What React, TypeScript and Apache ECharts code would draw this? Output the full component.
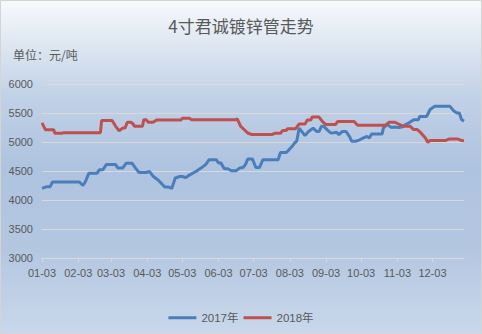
import React, { useEffect, useRef } from "react";
import * as echarts from "echarts";

const TITLE = "4寸君诚镀锌管走势";
const UNIT = "单位：元/吨";
const SERIES_NAMES = ["2017年", "2018年"];
const Y_MIN = 3000;
const Y_MAX = 6000;
const Y_STEP = 500;
const MONTH_DAYS = [31, 28, 31, 30, 31, 30, 31, 31, 30, 31, 30, 31];

const s2017Dates = [
  "01-03", "01-07", "01-10", "01-12", "02-04", "02-07", "02-09", "02-12", "02-19", "02-21",
  "02-24", "02-27", "03-07", "03-09", "03-13", "03-16", "03-21", "03-24", "03-27", "04-02",
  "04-05", "04-08", "04-12", "04-15", "04-18", "04-21", "04-24", "04-27", "05-01", "05-03",
  "05-06", "05-09", "05-15", "05-19", "05-23", "05-26", "06-01", "06-03", "06-05", "06-08",
  "06-11", "06-14", "06-18", "06-21", "06-24", "06-26", "06-28", "07-02", "07-05", "07-08",
  "07-11", "07-24", "07-26", "07-31", "08-02", "08-05", "08-07", "08-09", "08-11", "08-16",
  "08-19", "08-23", "08-26", "08-28", "08-30", "09-01", "09-04", "09-07", "09-10", "09-12",
  "09-14", "09-17", "09-20", "09-23", "09-25", "09-28", "10-01", "10-05", "10-08", "10-10",
  "10-12", "10-21", "10-22", "10-25", "10-29", "11-01", "11-04", "11-07", "11-10", "11-13",
  "11-17", "11-21", "11-22", "11-28", "12-01", "12-05", "12-18", "12-21", "12-24", "12-26",
  "12-28", "12-30",
];
const s2017Values = [
  4200, 4230, 4230, 4310, 4310, 4250, 4310, 4460, 4460, 4520,
  4520, 4610, 4610, 4550, 4550, 4635, 4635, 4550, 4475, 4475,
  4490, 4410, 4350, 4290, 4225, 4225, 4200, 4380, 4405, 4405,
  4385, 4430, 4495, 4550, 4610, 4695, 4695, 4640, 4640, 4540,
  4540, 4505, 4505, 4550, 4560, 4610, 4705, 4705, 4560, 4560,
  4695, 4695, 4820, 4820, 4860, 4925, 4980, 5020, 5240, 5110,
  5180, 5240, 5180, 5180, 5270, 5270, 5210, 5155, 5160, 5170,
  5126, 5183, 5183, 5097, 5011, 5011, 5030, 5070, 5097, 5070,
  5140, 5140, 5240, 5300, 5250, 5260, 5250, 5260, 5300, 5330,
  5385, 5385, 5440, 5440, 5560, 5615, 5615, 5540, 5500, 5500,
  5385, 5360,
];

const s2018Dates = [
  "01-03", "01-06", "01-13", "01-14", "01-20", "01-21", "02-22", "02-23", "03-04", "03-07",
  "03-10", "03-13", "03-15", "03-17", "03-20", "03-22", "03-23", "03-30", "03-31", "04-02",
  "04-04", "04-08", "04-11", "05-02", "05-03", "05-09", "05-11", "06-18", "06-19", "06-22",
  "06-28", "07-01", "07-19", "07-21", "07-26", "07-28", "07-31", "08-01", "08-08", "08-11",
  "08-16", "08-18", "08-21", "08-22", "08-28", "08-31", "09-03", "09-11", "09-13", "09-27",
  "09-30", "10-24", "10-27", "11-01", "11-04", "11-08", "11-14", "11-17", "11-20", "11-23",
  "11-27", "11-29", "12-01", "12-14", "12-17", "12-25", "12-28", "12-30",
];
const s2018Values = [
  5330, 5210, 5210, 5150, 5150, 5160, 5160, 5370, 5370, 5270,
  5195, 5240, 5240, 5340, 5340, 5310, 5270, 5270, 5385, 5385,
  5340, 5340, 5380, 5380, 5410, 5410, 5385, 5385, 5400, 5270,
  5155, 5130, 5130, 5150, 5150, 5200, 5200, 5230, 5230, 5310,
  5310, 5380, 5380, 5430, 5430, 5350, 5300, 5300, 5355, 5355,
  5290, 5290, 5340, 5340, 5310, 5270, 5270, 5215, 5215, 5160,
  5068, 4995, 5025, 5025, 5050, 5050, 5025, 5020,
];

function buildCategories(): string[] {
  const out: string[] = [];
  for (let m = 1; m <= 12; m++) {
    for (let d = 1; d <= MONTH_DAYS[m - 1]; d++) {
      if (m === 1 && d < 3) continue;
      if (m === 12 && d > 30) continue;
      out.push(String(m).padStart(2, "0") + "-" + String(d).padStart(2, "0"));
    }
  }
  return out;
}

export default function App() {
  const ref = useRef<HTMLDivElement>(null);
  useEffect(() => {
    if (!ref.current) return;
    const chart = echarts.init(ref.current, null, { renderer: "svg" });
    const categories = buildCategories();
    const isMonthTick = (_i: number, v: string) => v.slice(3) === "03";
    const font = "'Liberation Sans', 'Noto Sans CJK SC', sans-serif";
    chart.setOption({
      animation: false,
      textStyle: { fontFamily: font },
      title: [
        {
          text: TITLE,
          left: "center",
          top: 12,
          textStyle: { fontSize: 17, fontWeight: "normal", color: "#595959", fontFamily: "'Noto Sans CJK SC', sans-serif" },
        },
        {
          text: UNIT,
          left: 8,
          top: 43,
          textStyle: { fontSize: 12, fontWeight: "normal", color: "#595959", fontFamily: "'Noto Sans CJK SC', sans-serif" },
        },
      ],
      legend: {
        data: SERIES_NAMES,
        top: 307,
        left: "center",
        icon: "rect",
        itemWidth: 28,
        itemHeight: 3,
        itemGap: 5,
        textStyle: { fontSize: 11.5, color: "#595959", fontFamily: font },
      },
      grid: { left: 42, right: 18, top: 84, bottom: 76, containLabel: false, outerBoundsMode: "none" },
      xAxis: {
        type: "category",
        data: categories,
        boundaryGap: false,
        axisLine: { lineStyle: { color: "#d9d9d9", width: 1 } },
        axisTick: { show: true, interval: isMonthTick, length: 4, lineStyle: { color: "#d9d9d9" } },
        axisLabel: { interval: isMonthTick, color: "#595959", fontSize: 11, margin: 9, fontFamily: font },
        splitLine: { show: false },
      },
      yAxis: {
        type: "value",
        min: Y_MIN,
        max: Y_MAX,
        interval: Y_STEP,
        axisLine: { show: false },
        axisTick: { show: false },
        axisLabel: { color: "#595959", fontSize: 11, margin: 9, fontFamily: font, formatter: (v: number) => String(v) },
        splitLine: { lineStyle: { color: "#d9d9d9", width: 1 } },
      },
      graphic: [
        {
          type: "rect",
          shape: { x: 0.5, y: 0.5, width: 481, height: 333 },
          style: { fill: "none", stroke: "#d4d4d4", lineWidth: 1 },
          silent: true,
        },
      ],
      series: [
        {
          name: SERIES_NAMES[0],
          type: "line",
          symbol: "none",
          data: s2017Dates.map((d, i) => [d, s2017Values[i]]),
          lineStyle: { width: 3, color: "#4a7ebb" },
          itemStyle: { color: "#4a7ebb" },
        },
        {
          name: SERIES_NAMES[1],
          type: "line",
          symbol: "none",
          data: s2018Dates.map((d, i) => [d, s2018Values[i]]),
          lineStyle: { width: 3, color: "#c0504d" },
          itemStyle: { color: "#c0504d" },
        },
      ],
    });
    return () => chart.dispose();
  }, []);
  return (
    <div
      ref={ref}
      style={{
        position: "fixed",
        left: 0,
        top: 0,
        width: 482,
        height: 334,
        background:
          "linear-gradient(to bottom, #f7f9fc 0%, #dde6f1 14%, #c2d2e7 28%, #aec3df 50%, #b4c7e1 75%, #c9d8eb 100%)",
      }}
    />
  );
}
